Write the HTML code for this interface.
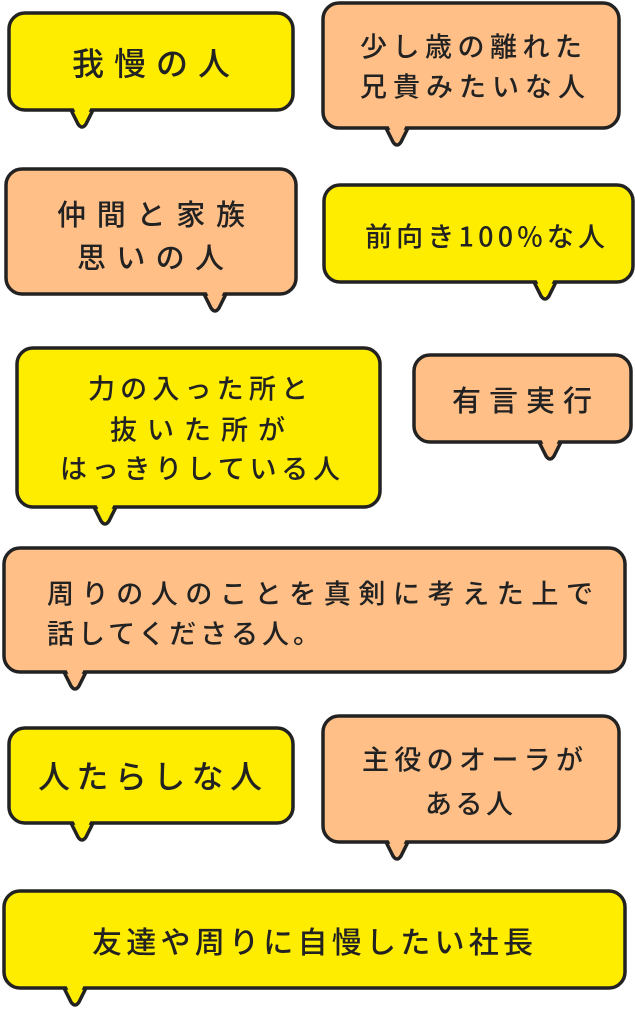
<!DOCTYPE html>
<html><head><meta charset="utf-8"><style>
html,body{margin:0;padding:0;background:#fff;}
svg{display:block}
text{font-family:"Noto Sans CJK JP",sans-serif;fill:#222;dominant-baseline:central;font-weight:500;}
</style></head><body>
<svg width="635" height="1009" viewBox="0 0 635 1009" xmlns="http://www.w3.org/2000/svg">
<g stroke="#222" stroke-width="3.5" stroke-linejoin="round">
<path d="M70,108 L78,124 Q82,130 86,124 L94,108 Z" fill="#FFED00"/>
<rect x="9" y="13" width="284" height="97" rx="16" fill="#FFED00"/>
<path d="M385,126 L393,142 Q397,148 401,142 L409,126 Z" fill="#FFBF87"/>
<rect x="323" y="3" width="296" height="125" rx="16" fill="#FFBF87"/>
<path d="M203,292 L211,308 Q215,314 219,308 L227,292 Z" fill="#FFBF87"/>
<rect x="6" y="169" width="290" height="125" rx="16" fill="#FFBF87"/>
<path d="M533,280 L541,296 Q545,302 549,296 L557,280 Z" fill="#FFED00"/>
<rect x="324" y="185" width="309" height="97" rx="16" fill="#FFED00"/>
<path d="M93,505 L101,521 Q105,527 109,521 L117,505 Z" fill="#FFED00"/>
<rect x="17" y="348" width="363" height="159" rx="16" fill="#FFED00"/>
<path d="M538,440 L546,456 Q550,462 554,456 L562,440 Z" fill="#FFBF87"/>
<rect x="414" y="355" width="217" height="87" rx="16" fill="#FFBF87"/>
<path d="M63,670 L71,686 Q75,692 79,686 L87,670 Z" fill="#FFBF87"/>
<rect x="4" y="548" width="621" height="124" rx="16" fill="#FFBF87"/>
<path d="M70,821 L78,837 Q82,843 86,837 L94,821 Z" fill="#FFED00"/>
<rect x="9" y="728" width="284" height="95" rx="16" fill="#FFED00"/>
<path d="M385,840 L393,856 Q397,862 401,856 L409,840 Z" fill="#FFBF87"/>
<rect x="323" y="716" width="296" height="126" rx="16" fill="#FFBF87"/>
<path d="M63,986 L71,1002 Q75,1008 79,1002 L87,986 Z" fill="#FFED00"/>
<rect x="4" y="891" width="621" height="97" rx="16" fill="#FFED00"/>
</g>
<g stroke="none">
<path d="M72.5,106 L80,121 L84,121 L91.5,106 Z" fill="#FFED00"/>
<path d="M387.5,124 L395,139 L399,139 L406.5,124 Z" fill="#FFBF87"/>
<path d="M205.5,290 L213,305 L217,305 L224.5,290 Z" fill="#FFBF87"/>
<path d="M535.5,278 L543,293 L547,293 L554.5,278 Z" fill="#FFED00"/>
<path d="M95.5,503 L103,518 L107,518 L114.5,503 Z" fill="#FFED00"/>
<path d="M540.5,438 L548,453 L552,453 L559.5,438 Z" fill="#FFBF87"/>
<path d="M65.5,668 L73,683 L77,683 L84.5,668 Z" fill="#FFBF87"/>
<path d="M72.5,819 L80,834 L84,834 L91.5,819 Z" fill="#FFED00"/>
<path d="M387.5,838 L395,853 L399,853 L406.5,838 Z" fill="#FFBF87"/>
<path d="M65.5,984 L73,999 L77,999 L84.5,984 Z" fill="#FFED00"/>
</g>
<g lengthAdjust="spacing">
<text x="72" y="62" font-size="32" textLength="158" lengthAdjust="spacing">我慢の人</text>
<text x="360" y="45" font-size="27" textLength="222" lengthAdjust="spacing">少し歳の離れた</text>
<text x="360" y="85" font-size="27" textLength="225" lengthAdjust="spacing">兄貴みたいな人</text>
<text x="57" y="213" font-size="29" textLength="188" lengthAdjust="spacing">仲間と家族</text>
<text x="77" y="256" font-size="29" textLength="147" lengthAdjust="spacing">思いの人</text>
<text x="365" y="235" font-size="27" textLength="240" lengthAdjust="spacing">前向き100%な人</text>
<text x="88" y="387" font-size="27" textLength="220" lengthAdjust="spacing">力の入った所と</text>
<text x="110" y="428" font-size="27" textLength="175" lengthAdjust="spacing">抜いた所が</text>
<text x="60" y="467" font-size="27" textLength="280" lengthAdjust="spacing">はっきりしている人</text>
<text x="452" y="399" font-size="29" textLength="140" lengthAdjust="spacing">有言実行</text>
<text x="47" y="592" font-size="27" textLength="546" lengthAdjust="spacing">周りの人のことを真剣に考えた上で</text>
<text x="47" y="632" font-size="27" textLength="273" lengthAdjust="spacing">話してくださる人。</text>
<text x="38" y="775" font-size="32" textLength="224" lengthAdjust="spacing">人たらしな人</text>
<text x="362" y="758" font-size="27" textLength="221" lengthAdjust="spacing">主役のオーラが</text>
<text x="425" y="802" font-size="27" textLength="88" lengthAdjust="spacing">ある人</text>
<text x="92" y="940" font-size="30" textLength="441" lengthAdjust="spacing">友達や周りに自慢したい社長</text>
</g>
</svg>
</body></html>
